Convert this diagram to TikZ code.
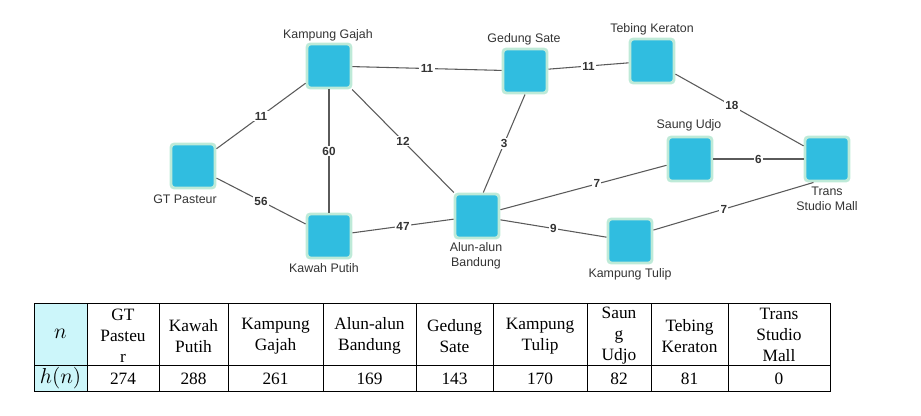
\documentclass[tikz,border=0pt]{standalone}
\usepackage{fontspec}
\setmainfont{Liberation Serif}
\newfontfamily\mapfont{Liberation Sans}
\usepackage{tikz}

\definecolor{spotfill}{RGB}{48,189,224}
\definecolor{spotrim}{RGB}{190,234,216}
\definecolor{roadgray}{RGB}{90,90,90}
\definecolor{inkgray}{RGB}{51,51,51}
\definecolor{headcyan}{RGB}{204,246,250}

\tikzset{
  spot/.style={draw=spotrim, line width=2.2pt, fill=spotfill, rounded corners=2.5pt, minimum size=33pt, inner sep=0pt},
  road/.style={draw=roadgray, line width=0.8pt},
  cost/.style={fill=white, inner sep=1pt, text=inkgray, font=\mapfont\bfseries\fontsize{8.8}{10}\selectfont},
  place/.style={text=inkgray, font=\mapfont\fontsize{9.3}{11.3}\selectfont, align=center, inner sep=0pt},
  cell/.style={font=\fontsize{13}{15.75}\selectfont, align=center, inner sep=0pt},
  grid/.style={line width=0.65pt},
}

\begin{document}
\begin{tikzpicture}[x=0.75pt,y=0.75pt,yscale=-1,xscale=1]
\useasboundingbox (0,0) rectangle (921,415);

%Shape: Square
\node[spot] (gt) at (193,166) {};
\node[spot] (kg) at (329,66) {};
\node[spot] (kp) at (329,236) {};
\node[spot] (aa) at (477,216) {};
\node[spot] (gs) at (525,71) {};
\node[spot] (tk) at (652,61) {};
\node[spot] (su) at (690,159) {};
\node[spot] (tsm) at (827,159) {};
\node[spot] (kt) at (630,241) {};

%Straight Lines
\draw[road] (gt) -- node[cost] (c-gt-kg) {11} (kg);
\draw[road] (gt) -- node[cost] (c-gt-kp) {56} (kp);
\draw[road] (kg) -- node[cost] (c-kg-kp) {60} (kp);
\draw[road] (kg) -- node[cost] (c-kg-aa) {12} (aa);
\draw[road] (kg) -- node[cost] (c-kg-gs) {11} (gs);
\draw[road] (kp) -- node[cost] (c-kp-aa) {47} (aa);
\draw[road] (gs.south) -- node[cost] (c-gs-aa) {3} (aa.75);
\draw[road] (gs) -- node[cost] (c-gs-tk) {11} (tk);
\draw[road] (tk) -- node[cost, pos=0.44] (c-tk-tsm) {18} (tsm);
\draw[road] (aa) -- node[cost, pos=0.58] (c-aa-su) {7} (su);
\draw[road] (su) -- node[cost] (c-su-tsm) {6} (tsm);
\draw[road] (aa) -- node[cost] (c-aa-kt) {9} (kt);
\draw[road] (kt.25) -- node[cost, pos=0.44] (c-kt-tsm) {7} (tsm.-120);

% Text Node
\node[place] (gt-txt) at (185,199) {GT Pasteur};
\node[place] (kg-txt) at (328,35) {Kampung Gajah};
\node[place] (kp-txt) at (324,268) {Kawah Putih};
\node[place] (aa-txt) at (476,256) {Alun-alun\\Bandung};
\node[place] (gs-txt) at (524,39) {Gedung Sate};
\node[place] (tk-txt) at (652,29) {Tebing Keraton};
\node[place] (su-txt) at (689,125) {Saung Udjo};
\node[place] (tsm-txt) at (827,199) {Trans\\Studio Mall};
\node[place] (kt-txt) at (630,274) {Kampung Tulip};

%Table
\fill[headcyan] (34,303) rectangle (87,391);
\draw[grid] (34,303) rectangle (830,391);
\draw[grid] (34,365) -- (830,365);
\foreach \cx in {87,159,228,323,416,493,587,651,728}
  \draw[grid] (\cx,303) -- (\cx,391);

% Text Node
\node[cell] (hd-n) at (60.5,334) {\scalebox{1.35}{$n$}};
\node[cell] (hd-gt) at (123,336) {GT\\Pasteu\\r};
\node[cell] (hd-kp) at (193.5,336) {Kawah\\Putih};
\node[cell] (hd-kg) at (275.5,336) {Kampung\\Gajah};
\node[cell] (hd-aa) at (369.5,336) {Alun-alun\\Bandung};
\node[cell] (hd-gs) at (454.5,336) {Gedung\\Sate};
\node[cell] (hd-kt) at (540,336) {Kampung\\Tulip};
\node[cell] (hd-su) at (619,336) {Saun\\g\\Udjo};
\node[cell] (hd-tk) at (689.5,336) {Tebing\\Keraton};
\node[cell] (hd-tsm) at (779,335) {Trans\\Studio\\Mall};

\node[cell] (hv-n) at (60.5,378) {\scalebox{1.35}{$h(n)$}};
\node[cell] (hv-gt) at (123,379) {274};
\node[cell] (hv-kp) at (193.5,379) {288};
\node[cell] (hv-kg) at (275.5,379) {261};
\node[cell] (hv-aa) at (369.5,379) {169};
\node[cell] (hv-gs) at (454.5,379) {143};
\node[cell] (hv-kt) at (540,379) {170};
\node[cell] (hv-su) at (619,379) {82};
\node[cell] (hv-tk) at (689.5,379) {81};
\node[cell] (hv-tsm) at (779,379) {0};

\end{tikzpicture}
\end{document}
